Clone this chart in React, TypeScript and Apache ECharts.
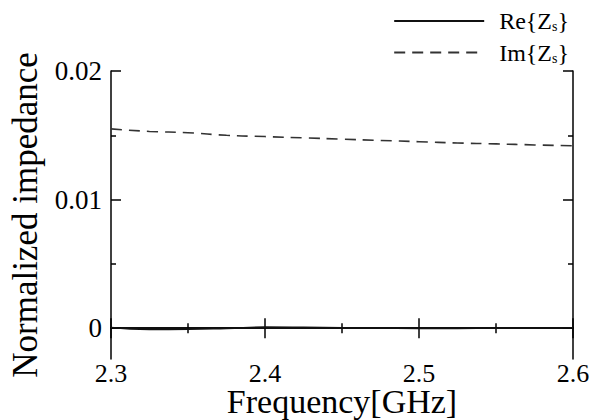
import React, { useEffect, useRef } from "react";
import * as echarts from "echarts";

const freq = [2.3, 2.325, 2.35, 2.375, 2.4, 2.425, 2.45, 2.475, 2.5, 2.525, 2.55, 2.575, 2.6];
const reZs = [0.00005, -0.0001, -0.00009, -0.00002, 0.00008, 0.00006, 0.00002, 0.0, -0.00002, -0.00002, 0.0, 0.0, 0.00003];
const imZs = [0.0155, 0.0153, 0.0152, 0.015, 0.0149, 0.0148, 0.0147, 0.0146, 0.0145, 0.0144, 0.01433, 0.01425, 0.01418];
const xTicks = [2.3, 2.4, 2.5, 2.6];
const yMajorTicks = [0, 0.01, 0.02];
const yMinorTicks = [0.005, 0.015];
const seriesNames = ["Re", "Im"];

const FONT = "'Liberation Serif', 'Times New Roman', serif";
const BLACK = "#000";

export default function App() {
  const ref = useRef<HTMLDivElement>(null);
  useEffect(() => {
    if (!ref.current) return;
    const chart = echarts.init(ref.current, null, { renderer: "svg" });
    const yMin = -0.0024;
    const yMax = 0.02;
    const lineAxis = { show: true, lineStyle: { color: BLACK, width: 1.5 } };
    const yBase = (position: string, showLine: boolean, ticks: number[], len: number, labels: boolean) => ({
      type: "value",
      position,
      min: yMin,
      max: yMax,
      axisLine: showLine ? lineAxis : { show: false },
      axisTick: { show: true, inside: true, length: len, customValues: ticks, lineStyle: { color: BLACK, width: 1.5 } },
      axisLabel: labels
        ? {
            show: true,
            customValues: yMajorTicks,
            formatter: (v: number) => (v === 0 ? "0" : v.toFixed(2)),
            fontFamily: FONT,
            fontSize: 27,
            color: BLACK,
            margin: 9,
          }
        : { show: false },
      splitLine: { show: false },
    });
    chart.setOption({
      animation: false,
      backgroundColor: "#fff",
      textStyle: { fontFamily: FONT, color: BLACK },
      legend: {
        orient: "vertical",
        right: 28,
        top: 4,
        itemWidth: 90,
        itemHeight: 24,
        itemGap: 7,
        data: seriesNames,
        itemStyle: { opacity: 0 },
        formatter: (name: string) => (name === "Re" ? "Re{Z{s|s}}" : "Im{Z{s|s}}"),
        textStyle: {
          fontFamily: FONT,
          fontSize: 24,
          lineHeight: 24,
          color: BLACK,
          padding: [0, 0, 0, 10],
          rich: {
            s: { fontFamily: FONT, fontSize: 14, color: BLACK, padding: [11, 0, 0, 0] },
          },
        },
      },
      grid: { left: 111, right: 29, top: 71, bottom: 61, outerBoundsMode: "none", containLabel: false },
      xAxis: [
        {
          type: "value",
          position: "bottom",
          min: 2.3,
          max: 2.6,
          interval: 0.1,
          axisLine: lineAxis,
          axisTick: { show: true, inside: true, length: 10, lineStyle: { color: BLACK, width: 1.5 } },
          minorTick: { show: true, splitNumber: 2, length: 5, lineStyle: { color: BLACK, width: 1.5 } },
          axisLabel: {
            show: true,
            customValues: xTicks,
            formatter: (v: number) => v.toFixed(1),
            fontFamily: FONT,
            fontSize: 26,
            lineHeight: 22,
            color: BLACK,
            margin: 3,
          },
          splitLine: { show: false },
          minorSplitLine: { show: false },
          name: "Frequency[GHz]",
          nameLocation: "middle",
          nameGap: 25,
          nameMoveOverlap: false,
          nameTextStyle: { fontFamily: FONT, fontSize: 34, color: BLACK, verticalAlign: "top", lineHeight: 34 },
        },
        {
          type: "value",
          position: "top",
          min: 2.3,
          max: 2.6,
          interval: 0.1,
          axisLine: lineAxis,
          axisTick: { show: true, inside: true, length: 10, lineStyle: { color: BLACK, width: 1.5 } },
          minorTick: { show: true, splitNumber: 2, length: 5, lineStyle: { color: BLACK, width: 1.5 } },
          axisLabel: { show: false },
          splitLine: { show: false },
        },
      ],
      yAxis: [
        {
          ...yBase("left", true, yMajorTicks, 10, true),
          name: "Normalized impedance",
          nameLocation: "middle",
          nameGap: 68,
          nameMoveOverlap: false,
          nameTextStyle: { fontFamily: FONT, fontSize: 35, color: BLACK },
        },
        yBase("left", false, yMinorTicks, 5, false),
        yBase("right", true, yMajorTicks, 10, false),
        yBase("right", false, yMinorTicks, 5, false),
      ],
      series: [
        {
          name: "Re",
          type: "line",
          xAxisIndex: 0,
          yAxisIndex: 0,
          smooth: true,
          symbol: "none",
          itemStyle: { color: "#111" },
          lineStyle: { color: "#111", width: 1.6, type: "solid" },
          data: freq.map((f, i) => [f, reZs[i]]),
        },
        {
          name: "Im",
          type: "line",
          xAxisIndex: 0,
          yAxisIndex: 0,
          smooth: true,
          symbol: "none",
          itemStyle: { color: "#333" },
          lineStyle: { color: "#333", width: 1.6, type: [11, 7] },
          data: freq.map((f, i) => [f, imZs[i]]),
        },
      ],
    });
    return () => chart.dispose();
  }, []);
  return <div ref={ref} style={{ position: "fixed", left: 0, top: 0, width: 602, height: 420 }} />;
}
